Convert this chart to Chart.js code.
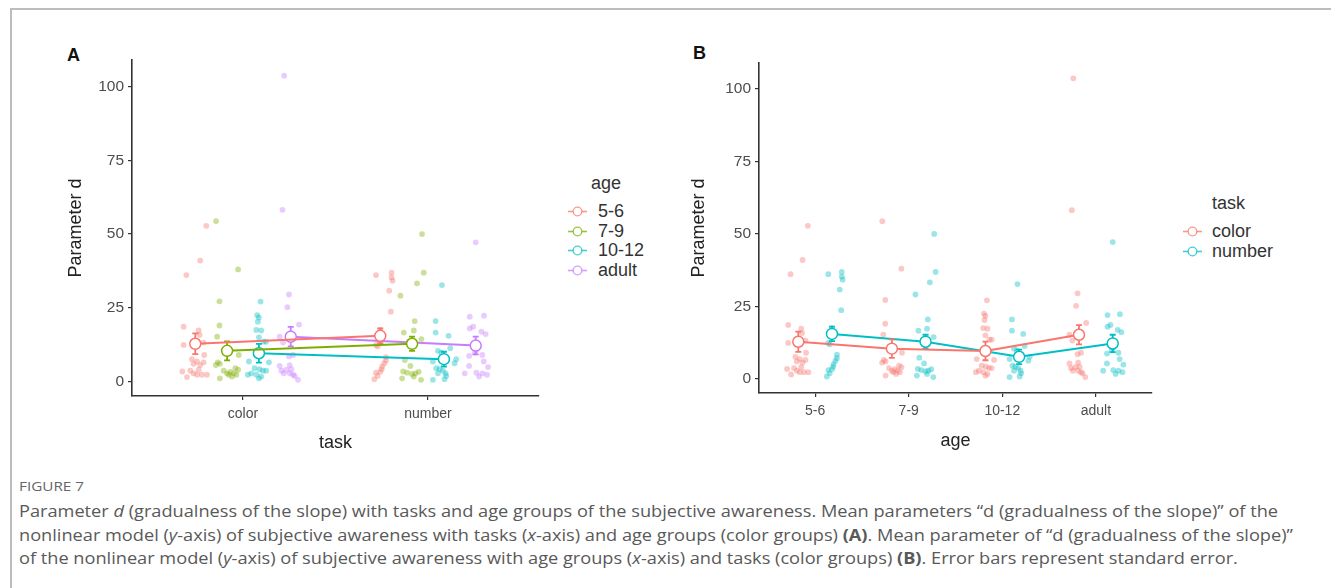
<!DOCTYPE html>
<html>
<head>
<meta charset="utf-8">
<script src="https://cdn.jsdelivr.net/npm/chart.js@4.4.1/dist/chart.umd.min.js"></script>
<style>
  body { margin: 0; width: 1331px; height: 588px; background: #fff; overflow: hidden; position: relative; font-family: "Liberation Sans", Arial, sans-serif; }
  .frame { position: absolute; left: 10px; top: 8px; width: 1340px; height: 600px; border-top: 2px solid #bdbdbd; border-left: 2px solid #bdbdbd; }
  .box { position: absolute; }
  .letter { position: absolute; font-weight: bold; font-size: 18px; color: #111; line-height: 20px; }
  .legend { position: absolute; color: #333; font-size: 18px; line-height: 19.5px; }
  .legend .title { line-height: 20px; margin-bottom: 9px; }
  .legend .row { position: relative; height: 19.5px; }
  .legend svg { position: absolute; top: 4px; }
  .caption { position: absolute; left: 19px; top: 478px; color: #595959; font-family: "Open Sans", Lato, sans-serif; }
  .caption .fig { display: table; font-size: 13px; line-height: 16px; color: #666; margin-bottom: 6px; transform-origin: left center; }
  .caption .line { display: table; font-size: 16px; line-height: 23.5px; white-space: nowrap; transform-origin: left center; }
</style>
</head>
<body>
<div class="frame"></div>

<div class="letter" style="left:67px; top:45px;">A</div>
<div class="letter" style="left:693px; top:43px;">B</div>

<div class="box" style="left:40px; top:40px;"><canvas id="chartA" width="520" height="416"></canvas></div>
<div class="box" style="left:670px; top:40px;"><canvas id="chartB" width="500" height="414"></canvas></div>

<div class="legend" id="legendA" style="left:568px; top:173px;"></div>
<div class="legend" id="legendB" style="left:1183px; top:193px;"></div>

<div class="caption">
  <div class="fig">FIGURE 7</div>
  <div class="line">Parameter <i>d</i> (gradualness of the slope) with tasks and age groups of the subjective awareness. Mean parameters “d (gradualness of the slope)” of the</div>
  <div class="line">nonlinear model (<i>y</i>-axis) of subjective awareness with tasks (<i>x</i>-axis) and age groups (color groups) <b>(A)</b>. Mean parameter of “d (gradualness of the slope)”</div>
  <div class="line">of the nonlinear model (<i>y</i>-axis) of subjective awareness with age groups (<i>x</i>-axis) and tasks (color groups) <b>(B)</b>. Error bars represent standard error.</div>
</div>

<script>
const tasks = ['color', 'number'];
const ages = ['5-6', '7-9', '10-12', 'adult'];
const yTicks = [0, 25, 50, 75, 100];

// group means and standard errors, one value per age group
const meanColor = [12.8, 10.4, 9.6, 15.2];
const meanNumber = [15.5, 12.8, 7.6, 12.2];
const seColor = [3.5, 3.2, 3.2, 3.3];
const seNumber = [2.5, 2.4, 2.5, 3.0];

// raw points: [jitter (-1..1), parameter d]
const color56 = [[-0.69, 36.1], [0.38, 41], [0.85, 52.8], [-0.9, 18.6], [0.26, 17.3], [0.33, 15.8], [-0.9, 12.4], [0.64, 13.2],
  [0.69, 9.0], [-0.26, 7.6], [0.13, 6.8], [-0.13, 6.0], [0.38, 5.6], [0.64, 6.5], [-1.0, 3.4], [-0.38, 3.7], [-0.13, 2.8],
  [0.13, 2.3], [0.51, 2.3], [0.9, 2.3], [-0.64, 1.5], [0.26, 4.0]];
const color79 = [[-0.85, 54.4], [0.85, 38], [-0.59, 27.2], [-0.59, 19], [-0.77, 15.2], [-0.72, 6.5], [-0.56, 6.0], [-0.87, 5.6],
  [-0.26, 3.7], [0, 2.8], [0.26, 3.3], [0.51, 2.8], [0.72, 2.3], [0.85, 4.0], [-0.56, 1.1], [0.13, 2.3], [0.38, 1.7],
  [0.9, 9.0], [0.64, 4.5]];
const color1012 = [[0.13, 27.1], [-0.13, 22.5], [0, 21.7], [-0.08, 20.3], [-0.2, 17.5], [0.18, 17.3], [0, 15.0], [0.36, 13.5],
  [0.56, 13.5], [-0.77, 6.8], [0.77, 6.5], [-0.33, 4.5], [0.05, 4.2], [0.31, 3.7], [0.56, 3.7], [-0.59, 2.8], [-0.2, 2.3],
  [0.18, 1.7], [0, 1.1], [-0.85, 2.3]];
const colorAdult = [[-0.51, 103.7], [-0.64, 58.2], [-0.13, 29.5], [-0.26, 25.2], [0.64, 19.3], [-0.85, 15.2], [-0.59, 13.2],
  [-0.13, 8.5], [0.18, 9.0], [-0.85, 5.3], [-0.08, 5.6], [-0.72, 3.7], [-0.33, 4.0], [0.05, 4.2], [-0.54, 2.8], [-0.08, 2.8],
  [0.18, 2.3], [0.56, 0.6], [0.31, 1.9]];
const number56 = [[-0.33, 36.1], [0.87, 36.9], [0.87, 35.3], [0.95, 34.2], [0.69, 30.8], [0.82, 23.7], [0, 17.5], [-0.33, 12.4],
  [-0.2, 11.9], [0.44, 7.1], [0.31, 6.2], [0.44, 8.3], [0.15, 5.1], [0.1, 4.2], [0, 3.3], [-0.33, 3.0], [-0.2, 1.9], [-0.46, 0.8]];
const number79 = [[0.77, 50], [0.9, 36.9], [0.38, 33.3], [-0.9, 29.1], [0.2, 20.5], [-0.64, 16.6], [0.13, 17.3], [0.72, 14.4],
  [-0.26, 13.5], [-0.56, 7.3], [-0.13, 5.3], [-0.69, 3.4], [-0.38, 3.0], [0, 2.6], [0.26, 2.8], [0.51, 3.3], [-0.77, 1.1],
  [0.69, 0.6], [0.13, 1.7]];
const number1012 = [[-0.15, 32.7], [-0.64, 20.5], [-0.64, 16.6], [0.36, 15.5], [-0.46, 10.4], [0.49, 11.3], [-0.2, 9.8],
  [0.95, 7.6], [0.82, 6.2], [-0.85, 6.8], [-0.59, 4.5], [-0.33, 4.2], [-0.08, 3.7], [0.13, 2.8], [-0.46, 2.8], [0.18, 1.9],
  [-0.85, 0.6], [0.05, 0.8]];
const numberAdult = [[0, 47.2], [-0.46, 22.0], [0.64, 22.3], [-0.2, 18.6], [-0.46, 18.0], [0.44, 16.9], [0.77, 16.1], [0.05, 10.7],
  [-0.08, 9.8], [-0.51, 8.7], [0.51, 9.0], [0.62, 6.8], [-0.51, 5.3], [0.95, 4.9], [0.05, 3.0], [-0.85, 2.8], [0.51, 2.8],
  [0.87, 2.3], [0.26, 1.7]];

const rawColor = [color56, color79, color1012, colorAdult];
const rawNumber = [number56, number79, number1012, numberAdult];

const ageColors = ['#F8766D', '#7CAE00', '#00BFC4', '#C77CFF'];
const taskColors = ['#F8766D', '#00BFC4'];

function alpha(hex, a) {
  const n = parseInt(hex.slice(1), 16);
  return `rgba(${n >> 16}, ${(n >> 8) & 255}, ${n & 255}, ${a})`;
}

function jitter(raw, center, width) {
  return raw.map(([j, v]) => ({ x: center + j * width, y: v }));
}

const errorBars = {
  id: 'errorBars',
  beforeDatasetDraw(chart, args) {
    const ds = chart.data.datasets[args.index];
    if (!ds.errors) return;
    const ctx = chart.ctx;
    const x = chart.scales.x, y = chart.scales.y;
    ctx.save();
    ctx.strokeStyle = ds.borderColor;
    ctx.lineWidth = 1.8;
    ds.data.forEach((p, i) => {
      const px = x.getPixelForValue(p.x);
      const top = y.getPixelForValue(p.y + ds.errors[i]);
      const bot = y.getPixelForValue(p.y - ds.errors[i]);
      ctx.beginPath();
      ctx.moveTo(px, top); ctx.lineTo(px, bot);
      ctx.moveTo(px - 3, top); ctx.lineTo(px + 3, top);
      ctx.moveTo(px - 3, bot); ctx.lineTo(px + 3, bot);
      ctx.stroke();
    });
    ctx.restore();
  }
};

function pointSet(data, color) {
  return {
    data: data, order: 10, showLine: false,
    pointRadius: 2.9, pointBorderWidth: 0,
    pointBackgroundColor: alpha(color, 0.4), pointBorderColor: alpha(color, 0)
  };
}

function meanSet(data, errors, color) {
  return {
    data: data, errors: errors, order: 1, showLine: true,
    borderColor: color, borderWidth: 2,
    pointRadius: 5.5, pointBorderWidth: 1.5,
    pointBackgroundColor: '#fff', pointBorderColor: color
  };
}

function axes(labels, xMin, xMax, xTitle, yWidth, xHeight) {
  const grid = { drawOnChartArea: false, drawTicks: true, tickLength: 4, color: '#333', lineWidth: 1.2 };
  const border = { display: true, color: '#333', width: 1.6 };
  return {
    x: {
      type: 'linear', min: xMin, max: xMax, grid: grid, border: border,
      afterBuildTicks: s => { s.ticks = labels.map((l, i) => ({ value: i + 1 })); },
      afterFit: s => { s.height = xHeight; },
      ticks: { callback: v => labels[v - 1], color: '#4d4d4d', font: { size: 14, family: 'Liberation Sans' }, padding: 6, maxRotation: 0 },
      title: { display: true, text: xTitle, color: '#222', font: { size: 18, family: 'Liberation Sans' }, padding: { top: 0, bottom: 2 } }
    },
    y: {
      type: 'linear', min: -4.9, max: 109, grid: grid, border: border,
      afterBuildTicks: s => { s.ticks = yTicks.map(v => ({ value: v })); },
      afterFit: s => { s.width = yWidth; },
      ticks: { color: '#4d4d4d', font: { size: 15.5, family: 'Liberation Sans' }, padding: 4 },
      title: { display: true, text: 'Parameter d', color: '#222', font: { size: 18, family: 'Liberation Sans' }, padding: 0 }
    }
  };
}

const baseOptions = {
  responsive: false, animation: false, devicePixelRatio: 1,
  plugins: { legend: { display: false }, tooltip: { enabled: false } }
};

// Panel A: x = task, colour = age
const dodgeA = 0.172, jitterA = 0.07;
const datasetsA = [];
ages.forEach((a, k) => {
  const off = (k - 1.5) * dodgeA;
  datasetsA.push(meanSet([{ x: 1 + off, y: meanColor[k] }, { x: 2 + off, y: meanNumber[k] }], [seColor[k], seNumber[k]], ageColors[k]));
  datasetsA.push(pointSet(jitter(rawColor[k], 1 + off, jitterA).concat(jitter(rawNumber[k], 2 + off, jitterA)), ageColors[k]));
});

new Chart(document.getElementById('chartA'), {
  type: 'scatter',
  data: { datasets: datasetsA },
  options: Object.assign({}, baseOptions, {
    layout: { padding: { left: 25, top: 20, right: 21, bottom: 0 } },
    scales: axes(tasks, 0.4, 2.6, 'task', 67, 60)
  }),
  plugins: [errorBars]
});

// Panel B: x = age, colour = task
const dodgeB = 0.36, jitterB = 0.12;
const datasetsB = [];
[meanColor, meanNumber].forEach((means, t) => {
  const off = (t - 0.5) * dodgeB;
  const ses = t === 0 ? seColor : seNumber;
  const raws = t === 0 ? rawColor : rawNumber;
  datasetsB.push(meanSet(means.map((m, k) => ({ x: k + 1 + off, y: m })), ses, taskColors[t]));
  let pts = [];
  raws.forEach((r, k) => { pts = pts.concat(jitter(r, k + 1 + off, jitterB)); });
  datasetsB.push(pointSet(pts, taskColors[t]));
});

new Chart(document.getElementById('chartB'), {
  type: 'scatter',
  data: { datasets: datasetsB },
  options: Object.assign({}, baseOptions, {
    layout: { padding: { left: 18, top: 23, right: 18, bottom: 0 } },
    scales: axes(ages, 0.4, 4.6, 'age', 71, 61)
  }),
  plugins: [errorBars]
});

// legends
function icon(color) {
  const c = alpha(color, 0.75);
  return `<svg width="19" height="11" style="left:0"><line x1="0" y1="5.5" x2="19" y2="5.5" stroke="${c}" stroke-width="1.6"/>` +
    `<circle cx="9.5" cy="5.5" r="4.3" fill="#fff" stroke="${c}" stroke-width="1.3"/></svg>`;
}
function buildLegend(el, title, labels, colors, titleIndent, textIndent) {
  let html = `<div class="title" style="padding-left:${titleIndent}px">${title}</div>`;
  labels.forEach((l, i) => { html += `<div class="row" style="padding-left:${textIndent}px">${icon(colors[i])}${l}</div>`; });
  document.getElementById(el).innerHTML = html;
}
buildLegend('legendA', 'age', ages, ageColors, 23, 30);
buildLegend('legendB', 'task', tasks, taskColors, 29, 29);

// stretch caption lines to the reference text width
const fig = document.querySelector('.caption .fig');
fig.style.transform = `scaleX(${65 / fig.getBoundingClientRect().width})`;
const lines = document.querySelectorAll('.caption .line');
const k = 1259 / lines[0].getBoundingClientRect().width;
lines.forEach(l => { l.style.transform = `scaleX(${k})`; });
</script>
</body>
</html>
